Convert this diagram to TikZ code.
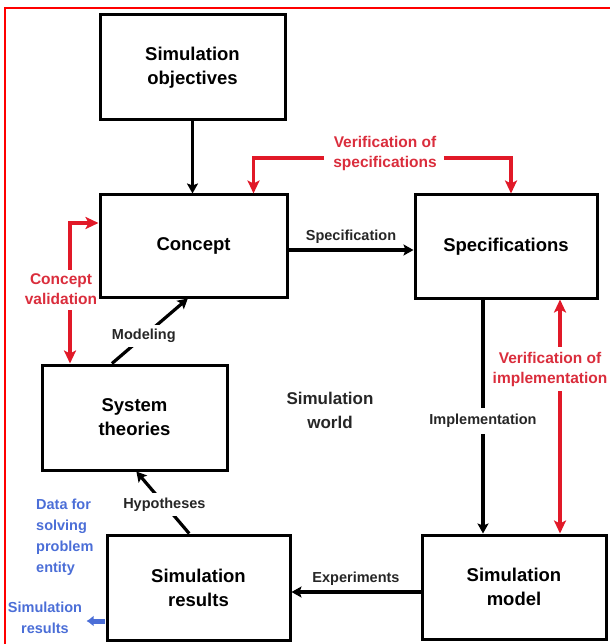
\documentclass[tikz,border=0pt]{standalone}
\usepackage{fontspec}
\setmainfont{Liberation Sans}
\usetikzlibrary{arrows.meta,calc}
\definecolor{arrred}{RGB}{225,25,40}
\definecolor{txtred}{RGB}{218,45,60}
\definecolor{txtblue}{RGB}{75,110,215}
\tikzset{
  box/.style={draw=black,line width=3pt,fill=white,align=center,inner sep=0pt,
    font=\bfseries\fontsize{18.5}{24}\selectfont},
  lbl/.style={font=\bfseries\fontsize{14.5}{18}\selectfont,text=black!85,inner sep=2pt},
  redlbl/.style={font=\bfseries\fontsize{15.5}{20}\selectfont,text=txtred,align=center,inner sep=1pt},
  bluelbl/.style={font=\bfseries\fontsize{14.5}{21}\selectfont,text=txtblue,inner sep=0pt},
  blk/.style={draw=black,line width=3.2pt,-{Stealth[length=10pt,width=11pt,inset=2pt]}},
  redarr/.style={draw=arrred,line width=3.2pt,-{Stealth[length=13pt,width=12pt,inset=3pt]}},
}
\begin{document}
\begin{tikzpicture}[x=1pt,y=-1pt]
\useasboundingbox (0,0) rectangle (610,644);
% frame
\draw[red,line width=2pt] (5,644) -- (5,8) -- (610,8);
% boxes
\node[box,minimum width=185pt,minimum height=105pt] (obj) at (192.5,67.5) {Simulation\\objectives};
\node[box,minimum width=187pt,minimum height=102pt] (concept) at (193.5,246) {Concept};
\node[box,minimum width=182pt,minimum height=103pt] (spec) at (506,246.5) {Specifications};
\node[box,minimum width=185pt,minimum height=105pt] (sys) at (134.5,417.5) {System\\theories};
\node[box,minimum width=183pt,minimum height=105pt] (res) at (198.5,587.5) {Simulation\\results};
\node[box,minimum width=184pt,minimum height=104pt] (model) at (514,587) {Simulation\\model};
% world label
\node[font=\bfseries\fontsize{17}{24}\selectfont,align=center,text=black!85] (world) at (330,410) {Simulation\\world};
% black connectors
\draw[blk] (obj.south) -- (obj.south |- concept.north);
\draw[blk] ([yshift=-4pt]concept.east) -- ([yshift=-4pt]concept.east -| spec.west)
  node[lbl,midway,above=3pt] (lspec) {Specification};
\draw[blk] ([xshift=-23pt]spec.south) -- ([xshift=-23pt]spec.south |- model.north)
  node[lbl,pos=0.52,fill=white,inner ysep=6pt] (limpl) {Implementation};
\draw[blk] ([yshift=-5pt]model.west) -- ([yshift=-5pt]model.west -| res.east)
  node[lbl,midway,above=3pt] (lexp) {Experiments};
\draw[blk] ($(res.north west)!0.45!(res.north east)$) -- ($(sys.south west)!0.51!(sys.south east)$)
  node[lbl,pos=0.47,fill=white,inner sep=5pt] (lhyp) {Hypotheses};
\draw[blk] ($(sys.north west)!0.38!(sys.north east)$) -- ($(concept.south west)!0.47!(concept.south east)$)
  node[lbl,pos=0.42,fill=white,inner sep=4pt] (lmod) {Modeling};
% red annotations
\node[redlbl] (vspec) at (385,153) {Verification of\\specifications};
\draw[redarr] ([yshift=-5pt,xshift=-8pt]vspec.west) -| ([xshift=60pt]concept.north);
\draw[redarr] ([yshift=-5pt,xshift=6pt]vspec.east) -| ([xshift=5pt]spec.north);
\node[redlbl] (cval) at (61,289.5) {Concept\\validation};
\draw[redarr] ([xshift=9pt,yshift=3pt]cval.north) |- ([yshift=23pt]concept.west);
\draw[redarr] ([xshift=9pt,yshift=-4pt]cval.south) -- ([xshift=-64.5pt]sys.north);
\node[redlbl] (vimpl) at (550,369) {Verification of\\implementation};
\draw[redarr] ([xshift=10pt,yshift=4pt]vimpl.north) -- ([xshift=54pt]spec.south);
\draw[redarr] ([xshift=10pt,yshift=-4pt]vimpl.south) -- ([xshift=46pt]model.north);
% blue annotations
\node[bluelbl,align=left,anchor=north west] (data) at (36,499) {Data for\\solving\\problem\\entity};
\node[bluelbl,align=center] (simres) at (45,617.5) {Simulation\\results};
\draw[txtblue,line width=5pt,-{Latex[length=7pt,width=11pt]}] ([xshift=-1pt,yshift=-33.5pt]res.west) -- ++(-18,0);
\end{tikzpicture}
\end{document}
